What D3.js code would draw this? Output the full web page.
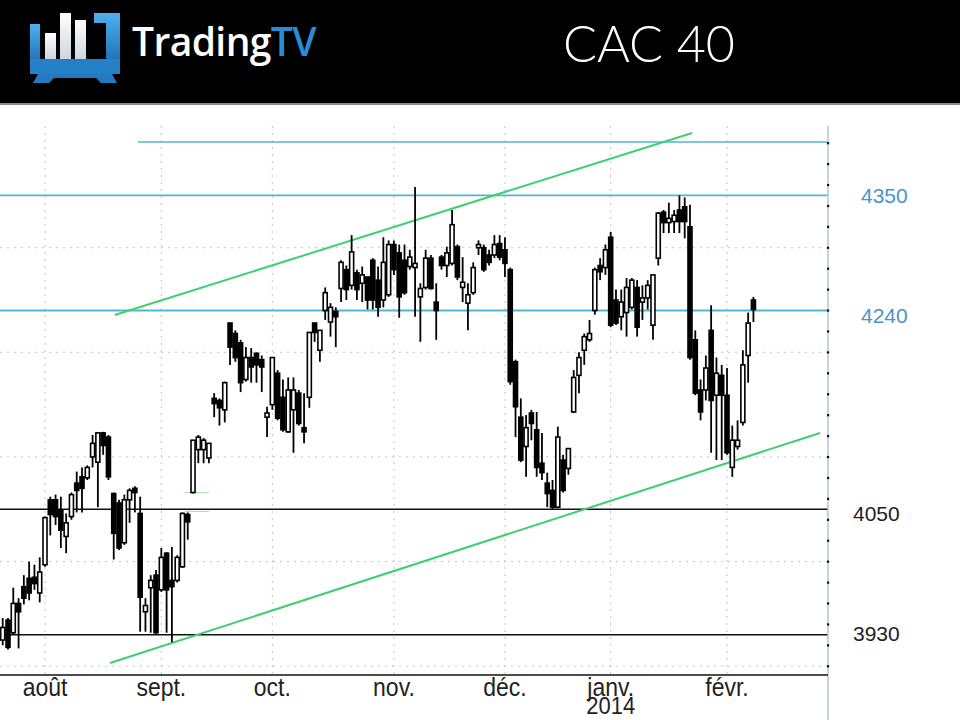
<!DOCTYPE html>
<html><head><meta charset="utf-8">
<script src="https://cdn.jsdelivr.net/npm/d3@7"></script>
<style>body{margin:0;background:#fff;}svg{display:block;}</style>
</head><body>
<svg id="c" width="960" height="720"></svg>
<script>
// ---------- data ----------
const title = "CAC 40";
const brandA = "Trading", brandB = "TV";
const monthLabels = ["août","sept.","oct.","nov.","déc.","janv.","févr."];
const monthIndex  = [0, 22, 43, 66, 87, 107, 129];   // trading-day index of first session of month
const yearLabel = "2014", yearUnder = "janv.";
const firstIndex = -8;
// [open, high, low, close] per trading day starting at firstIndex
const candles = [
[3925,3946,3920,3937],[3944,3946,3916,3918],[3932,3975,3930,3960],[3960,3965,3917,3952],
[3976,3987,3959,3965],[3984,4000,3963,3970],[3985,3997,3973,3979],[3970,4004,3961,3990],
[3997,4043,3995,4042],[4059,4062,4025,4045],[4059,4064,4035,4043],[4049,4062,4013,4030],
[4024,4046,4008,4037],[4043,4066,4040,4064],[4075,4086,4047,4068],[4081,4090,4047,4070],
[4080,4092,4078,4090],[4100,4121,4090,4113],[4095,4123,4052,4123],[4123,4124,4102,4111],
[4119,4121,4078,4081],[4065,4066,4002,4027],[4056,4059,4011,4013],[4018,4064,4016,4059],
[4059,4070,4037,4068],[4070,4072,4047,4066],[4046,4062,3933,3966],[3952,3965,3933,3958],
[3975,3987,3932,3982],[3987,3992,3931,3932],[3973,4013,3971,4004],[4008,4009,3932,3973],
[3982,4014,3923,3976],[3982,4006,3980,4004],[3995,4047,3994,4046],[4045,4047,4021,4038],
[4066,4116,4065,4116],[4107,4121,4094,4119],[4107,4118,4094,4116],[4099,4113,4094,4113],
[4156,4161,4138,4151],[4154,4156,4130,4147],[4145,4172,4133,4171],[4228,4228,4188,4205],
[4218,4221,4191,4195],[4209,4212,4162,4171],[4174,4205,4172,4195],[4195,4204,4171,4186],
[4199,4200,4171,4188],[4193,4197,4162,4186],[4138,4148,4119,4142],[4150,4195,4145,4195],
[4180,4183,4135,4137],[4157,4174,4124,4126],[4124,4176,4123,4164],[4145,4176,4104,4164],
[4161,4164,4130,4132],[4128,4161,4113,4124],[4157,4219,4147,4219],[4228,4228,4210,4219],
[4202,4221,4191,4221],[4240,4262,4231,4257],[4229,4247,4215,4243],[4239,4243,4205,4234],
[4261,4288,4248,4286],[4279,4283,4250,4260],[4264,4312,4260,4296],[4276,4279,4250,4260],
[4266,4282,4248,4274],[4272,4272,4241,4250],[4288,4290,4241,4250],[4269,4282,4234,4243],
[4250,4310,4243,4286],[4255,4307,4253,4303],[4303,4307,4274,4279],[4295,4303,4233,4253],
[4288,4303,4255,4257],[4282,4298,4279,4291],[4281,4358,4234,4285],[4253,4266,4210,4261],
[4262,4298,4260,4290],[4290,4293,4260,4261],[4248,4266,4212,4240],[4291,4293,4279,4283],
[4283,4301,4272,4295],[4285,4336,4283,4322],[4301,4303,4269,4272],[4262,4291,4248,4267],
[4247,4266,4221,4255],[4257,4286,4255,4281],[4300,4307,4293,4303],[4300,4303,4277,4279],
[4293,4298,4283,4286],[4293,4312,4290,4303],[4304,4312,4288,4291],[4298,4310,4272,4285],
[4279,4281,4169,4172],[4191,4193,4119,4148],[4138,4156,4095,4097],[4110,4140,4081,4128],
[4142,4145,4116,4132],[4126,4143,4081,4090],[4094,4123,4078,4085],[4075,4085,4052,4065],
[4068,4078,4050,4052],[4052,4129,4051,4119],[4097,4102,4066,4068],[4089,4108,4083,4108],
[4143,4183,4142,4176],[4178,4200,4161,4195],[4202,4218,4188,4215],[4212,4231,4210,4218],
[4240,4281,4236,4279],[4283,4290,4269,4277],[4281,4303,4274,4298],[4310,4315,4224,4226],
[4250,4260,4226,4228],[4234,4260,4221,4248],[4238,4271,4215,4262],[4243,4271,4241,4269],
[4262,4269,4215,4224],[4248,4264,4231,4252],[4252,4269,4241,4264],[4226,4274,4212,4274],
[4290,4334,4283,4333],[4334,4336,4314,4324],[4324,4343,4314,4328],[4325,4336,4314,4331],
[4336,4350,4314,4325],[4339,4348,4309,4325],[4320,4341,4193,4195],[4212,4221,4159,4161],
[4164,4174,4135,4143],[4164,4197,4154,4185],[4221,4245,4104,4154],[4159,4195,4097,4180],
[4178,4188,4097,4159],[4159,4185,4102,4104],[4090,4130,4081,4116],[4110,4135,4107,4116],
[4133,4202,4130,4188],[4197,4238,4171,4228],[4250,4253,4229,4241]
];
const cyanLevels  = [4350, 4240];
const topLevel = {value: 4401, fromIndex: 17.6};
const blackLevels = [4050, 3930];
const upperTrend = [[13.2, 4235.7], [122.4, 4409.6]];
const lowerTrend = [[12.3, 3903.1], [146.6, 4122.9]];
const gapMarks = [[26.5, 31, 4066], [26.5, 31, 4048]];
const gridValues = [3900, 4000, 4100, 4200, 4300];
const axisLabels = ["4350", "4240", "4050", "3930"];
const axisHighlighted = [true, true, false, false];
const tickStep = 20, tickMin = 3900, tickMax = 4400;

// ---------- scales ----------
const svg = d3.select("#c");
const x = d3.scaleLinear().domain([0, 129]).range([45, 727]);
const y = d3.scaleLinear().domain([3900, 4300]).range([666.2, 247.7]);
const plotRight = 828, plotTop = 126, plotBottom = 675;
const labelShift = [0, 5, 4, -1];   // small vertical nudges of the right-hand labels (px)

// ---------- header ----------
svg.append("rect").attr("x",0).attr("y",0).attr("width",960).attr("height",103).attr("fill","#000");
svg.append("rect").attr("x",0).attr("y",103).attr("width",960).attr("height",2).attr("fill","#8c8c8c");
const defs = svg.append("defs");
const g1 = defs.append("linearGradient").attr("id","blu").attr("x1",0).attr("y1",0).attr("x2",0).attr("y2",1);
g1.append("stop").attr("offset","0").attr("stop-color","#4fb0ee");
g1.append("stop").attr("offset","1").attr("stop-color","#1c6fb5");
const logo = svg.append("g");
logo.append("rect").attr("x",30).attr("y",24).attr("width",10).attr("height",40).attr("fill","url(#blu)");
logo.append("path").attr("d","M94,13 H120 V64 H106 V23 H94 Z").attr("fill","url(#blu)");
logo.append("rect").attr("x",30).attr("y",59).attr("width",90).attr("height",15).attr("fill","#2580c8");
logo.append("path").attr("d","M38,74 H112 L117,83 H101 L96,78 H54 L49,83 H33 Z").attr("fill","#2479c0");
const wg = defs.append("linearGradient").attr("id","wht").attr("x1",0).attr("y1",0).attr("x2",0).attr("y2",1);
wg.append("stop").attr("offset","0").attr("stop-color","#ffffff");
wg.append("stop").attr("offset","1").attr("stop-color","#cfd6dc");
[[45,33],[60,13],[75,20]].forEach(([bx,by])=>{
  logo.append("rect").attr("x",bx).attr("y",by).attr("width",11).attr("height",59-by).attr("fill","url(#wht)");
});
const brand = svg.append("text").attr("x",132).attr("y",56)
  .attr("font-family","'Open Sans', sans-serif").attr("font-weight",600).attr("font-size",39).attr("letter-spacing",-0.6);
brand.append("tspan").attr("fill","#fff").text(brandA);
brand.append("tspan").attr("fill","#2a8bd6").text(brandB);
svg.append("text").attr("x",563).attr("y",62).attr("fill","#fff")
  .attr("font-family","Lato, 'DejaVu Sans', sans-serif").attr("font-weight",300).attr("font-size",51)
  .attr("textLength",172).attr("lengthAdjust","spacingAndGlyphs")
  .text(title);

// ---------- grid ----------
const grid = svg.append("g").attr("stroke","#c4c4c4").attr("stroke-width",1).attr("stroke-dasharray","2,5");
gridValues.forEach(v=>grid.append("line").attr("x1",0).attr("x2",plotRight).attr("y1",y(v)).attr("y2",y(v)));
monthIndex.forEach(i=>grid.append("line").attr("x1",x(i)).attr("x2",x(i)).attr("y1",plotTop).attr("y2",plotBottom));

// ---------- levels ----------
const lv = svg.append("g");
lv.append("line").attr("x1",x(topLevel.fromIndex)).attr("x2",plotRight).attr("y1",y(topLevel.value)).attr("y2",y(topLevel.value))
  .attr("stroke","#4fb9c9").attr("stroke-width",1.6);
cyanLevels.forEach(v=>lv.append("line").attr("x1",0).attr("x2",plotRight).attr("y1",y(v)).attr("y2",y(v))
  .attr("stroke","#4fb9c9").attr("stroke-width",1.8));
blackLevels.forEach(v=>lv.append("line").attr("x1",0).attr("x2",plotRight).attr("y1",y(v)).attr("y2",y(v))
  .attr("stroke","#111").attr("stroke-width",1.6));
gapMarks.forEach(([a,b,v])=>lv.append("line").attr("x1",x(a)).attr("x2",x(b)).attr("y1",y(v)).attr("y2",y(v))
  .attr("stroke","#9fe0a8").attr("stroke-width",1));
[upperTrend, lowerTrend].forEach(t=>lv.append("line")
  .attr("x1",x(t[0][0])).attr("y1",y(t[0][1])).attr("x2",x(t[1][0])).attr("y2",y(t[1][1]))
  .attr("stroke","#3fd06e").attr("stroke-width",2));

// ---------- axes ----------
svg.append("line").attr("x1",plotRight).attr("x2",plotRight).attr("y1",plotTop).attr("y2",720)
  .attr("stroke","#b8c4cc").attr("stroke-width",1.5);
svg.append("line").attr("x1",0).attr("x2",plotRight).attr("y1",plotBottom).attr("y2",plotBottom)
  .attr("stroke","#111").attr("stroke-width",1.6);
d3.range(tickMin, tickMax+1, tickStep).forEach(v=>svg.append("rect")
  .attr("x",plotRight-1).attr("y",y(v)-1).attr("width",2.2).attr("height",2.2).attr("fill","#111"));
axisLabels.forEach((t,k)=>svg.append("text")
  .attr("x", axisHighlighted[k] ? 861 : 853).attr("y", y(+t) + labelShift[k]).attr("dy","0.36em")
  .attr("font-family","'Liberation Sans', Arial, sans-serif").attr("font-size",21)
  .attr("fill", axisHighlighted[k] ? "#4a93c9" : "#222").text(t));
monthLabels.forEach((m,k)=>{
  svg.append("text").attr("text-anchor","middle")
    .attr("transform",`translate(${x(monthIndex[k])},696) scale(1,1.15)`)
    .attr("font-family","'Liberation Sans', Arial, sans-serif").attr("font-size",23).attr("fill","#222").text(m);
});
svg.append("text").attr("text-anchor","middle")
  .attr("transform",`translate(${x(monthIndex[monthLabels.indexOf(yearUnder)])},714) scale(1,1.1)`)
  .attr("font-family","'Liberation Sans', Arial, sans-serif").attr("font-size",22).attr("fill","#222").text(yearLabel);

// ---------- candles ----------
const cg = svg.append("g");
const bw = 4;
candles.forEach((d,k)=>{
  const [o,h,l,c] = d, cx = x(firstIndex + k);
  cg.append("line").attr("x1",cx).attr("x2",cx).attr("y1",y(h)).attr("y2",y(l)).attr("stroke","#000").attr("stroke-width",1.8);
  const top = y(Math.max(o,c)), bot = y(Math.min(o,c));
  cg.append("rect").attr("x",cx-bw/2).attr("y",top).attr("width",bw).attr("height",Math.max(1,bot-top))
    .attr("fill", c>=o ? "#fff" : "#000").attr("stroke","#000").attr("stroke-width",1.6);
});
</script>
</body></html>
